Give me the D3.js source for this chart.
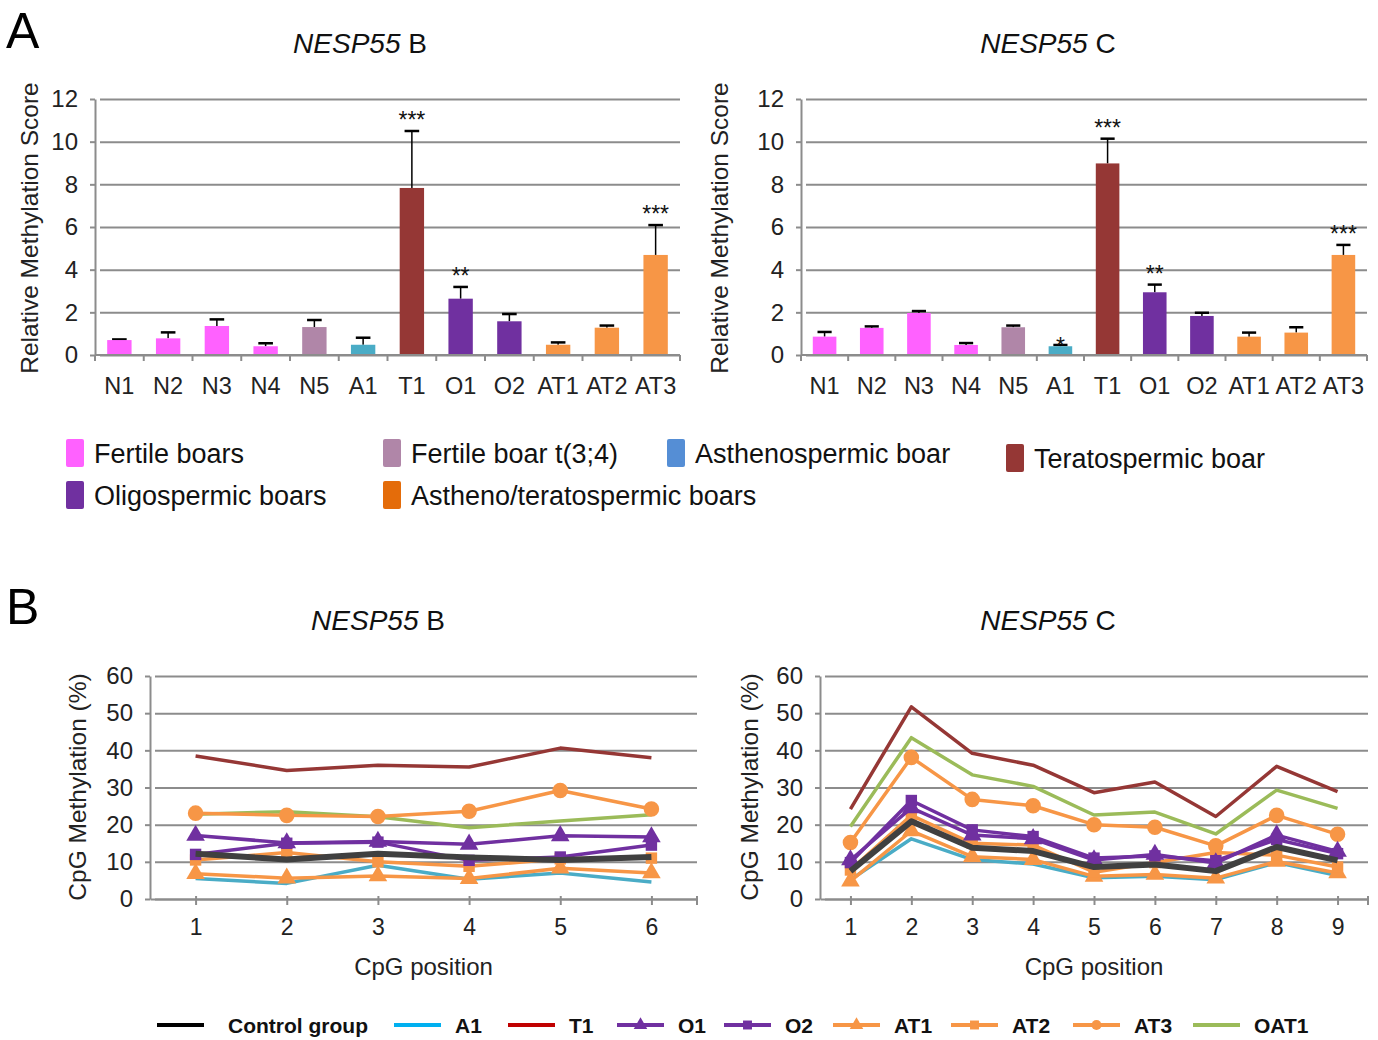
<!DOCTYPE html>
<html lang="en">
<head>
  <meta charset="UTF-8" />
  <title>NESP55 methylation</title>
  <script src="https://d3js.org/d3.v7.min.js"></script>
  <style>
    body { margin: 0; background: #fff; }
    svg { display: block; font-family: "Liberation Sans", Arial, sans-serif; }
    .grid line { stroke: #8c8c8c; stroke-width: 2; }
  </style>
</head>
<body>
<svg id="chart" width="1378" height="1040"></svg>
<script>
  // ---- panel A data ----
  const categories = ["N1", "N2", "N3", "N4", "N5", "A1", "T1", "O1", "O2", "AT1", "AT2", "AT3"];
  const barGroups = ["fert", "fert", "fert", "fert", "t34", "asth", "terato", "oligo", "oligo", "at", "at", "at"];
  const scoreB = [0.70, 0.78, 1.36, 0.41, 1.31, 0.48, 7.83, 2.64, 1.58, 0.48, 1.28, 4.69];
  const errTopB = [0.73, 1.06, 1.67, 0.55, 1.64, 0.81, 10.5, 3.19, 1.92, 0.59, 1.38, 6.09];
  const starsB = ["", "", "", "", "", "", "***", "**", "", "", "", "***"];
  const scoreC = [0.86, 1.27, 1.97, 0.47, 1.30, 0.41, 8.98, 2.94, 1.83, 0.86, 1.05, 4.69];
  const errTopC = [1.08, 1.34, 2.06, 0.56, 1.38, 0.47, 10.14, 3.30, 1.98, 1.05, 1.30, 5.16];
  const starsC = ["", "", "", "", "", "*", "***", "**", "", "", "", "***"];
  const yTicksA = [0, 2, 4, 6, 8, 10, 12];

  const legendA = [
    { key: "fert", label: "Fertile boars" },
    { key: "t34", label: "Fertile boar t(3;4)" },
    { key: "asthL", label: "Asthenospermic boar" },
    { key: "terato", label: "Teratospermic boar" },
    { key: "oligo", label: "Oligospermic boars" },
    { key: "atL", label: "Astheno/teratospermic boars" }
  ];

  // ---- panel B data ----
  const posB = [1, 2, 3, 4, 5, 6];
  const posC = [1, 2, 3, 4, 5, 6, 7, 8, 9];
  const yTicksB = [0, 10, 20, 30, 40, 50, 60];
  const seriesNames = ["Control group", "A1", "T1", "O1", "O2", "AT1", "AT2", "AT3", "OAT1"];

  const cpgB = {
    "Control group": [12.2, 10.6, 12.2, 11.2, 10.5, 11.3],
    "A1":   [5.5, 4.2, 9.1, 5.3, 7.0, 4.6],
    "T1":   [38.5, 34.6, 36.0, 35.5, 40.6, 38.0],
    "O1":   [17.1, 15.1, 15.5, 14.7, 17.0, 16.7],
    "O2":   [12.0, 15.0, 15.3, 10.4, 11.3, 14.5],
    "AT1":  [6.8, 5.6, 6.2, 5.5, 8.3, 7.0],
    "AT2":  [10.5, 12.5, 10.0, 8.8, 10.8, 11.0],
    "AT3":  [23.1, 22.5, 22.2, 23.6, 29.2, 24.2],
    "OAT1": [22.8, 23.5, 22.1, 19.2, 21.0, 22.7]
  };
  const cpgC = {
    "Control group": [7.5, 20.9, 13.8, 12.9, 8.6, 9.3, 7.5, 14.0, 10.4],
    "A1":   [5.2, 16.2, 10.6, 9.4, 5.7, 6.1, 5.2, 9.8, 6.3],
    "T1":   [24.2, 51.7, 39.2, 36.0, 28.6, 31.5, 22.2, 35.7, 28.9],
    "O1":   [10.5, 24.5, 17.2, 16.2, 10.5, 12.0, 9.7, 17.2, 12.8],
    "O2":   [9.8, 26.5, 18.6, 16.8, 11.0, 11.6, 10.3, 16.0, 12.2],
    "AT1":  [4.8, 18.3, 11.4, 10.6, 6.1, 6.6, 5.6, 10.1, 7.0],
    "AT2":  [7.8, 22.5, 15.0, 14.5, 7.2, 9.8, 12.5, 11.8, 8.6],
    "AT3":  [15.2, 38.1, 26.8, 25.1, 20.0, 19.3, 14.3, 22.5, 17.4],
    "OAT1": [19.5, 43.4, 33.4, 30.3, 22.6, 23.4, 17.5, 29.3, 24.4]
  };

  // ---- styles ----
  const barColor = {
    fert: "#ff61ff", t34: "#b086a8", asth: "#4aacc6", asthL: "#558ed5",
    terato: "#953735", oligo: "#7030a0", at: "#f79646", atL: "#e46c0a"
  };
  const lineStyle = {
    "Control group": { color: "#404040", legend: "#000000", width: 6, marker: null },
    "A1":   { color: "#4aacc6", legend: "#00b0f0", width: 3.5, marker: null },
    "T1":   { color: "#953735", legend: "#c00000", width: 3.5, marker: null },
    "O1":   { color: "#7030a0", legend: "#7030a0", width: 3.5, marker: "triangle" },
    "O2":   { color: "#7030a0", legend: "#7030a0", width: 3.5, marker: "square" },
    "AT1":  { color: "#f79646", legend: "#f79646", width: 3.5, marker: "triangle" },
    "AT2":  { color: "#f79646", legend: "#f79646", width: 3.5, marker: "square" },
    "AT3":  { color: "#f79646", legend: "#f79646", width: 3.5, marker: "circle" },
    "OAT1": { color: "#9bbb59", legend: "#9bbb59", width: 3.5, marker: null }
  };
  // draw order (back to front)
  const drawOrder = ["T1", "OAT1", "AT3", "A1", "AT1", "AT2", "O2", "O1", "Control group"];

  const svg = d3.select("#chart");

  function title(x, y, letter) {
    const t = svg.append("text").attr("x", x).attr("y", y)
      .attr("text-anchor", "middle").style("font-size", "28px").style("fill", "#111");
    t.append("tspan").style("font-style", "italic").text("NESP55");
    t.append("tspan").text(" " + letter);
  }

  function yTitle(x, y, label) {
    svg.append("text")
      .attr("transform", `translate(${x},${y}) rotate(-90)`)
      .attr("text-anchor", "middle")
      .style("font-size", "24.5px").style("fill", "#222")
      .text(label);
  }

  function barPanel(x0, x1, vals, errs, stars, letter, titleX) {
    const y = d3.scaleLinear().domain([0, 12]).range([355, 99]);
    const x = d3.scaleBand().domain(categories).range([x0, x1])
      .paddingInner(0.5).paddingOuter(0.25);
    const g = svg.append("g");

    const grid = g.append("g").attr("class", "grid")
      .attr("transform", `translate(${x0},0)`)
      .call(d3.axisLeft(y).tickValues(yTicksA).tickSize(-(x1 - x0)).tickSizeOuter(0).tickFormat(""));
    grid.select(".domain").remove();
    grid.selectAll(".tick line").attr("x1", 5);

    g.append("g").attr("transform", `translate(${x0},0)`)
      .call(d3.axisLeft(y).tickValues(yTicksA).tickSize(5).tickPadding(12).tickSizeOuter(0))
      .call(a => a.select(".domain").attr("stroke", "#8c8c8c").attr("stroke-width", 2))
      .call(a => a.selectAll(".tick line").attr("stroke", "#8c8c8c").attr("stroke-width", 2))
      .call(a => a.selectAll("text").style("font-size", "24px").style("fill", "#222")
        .style("font-family", "'Liberation Sans', Arial, sans-serif"));

    // x axis with ticks between categories
    const step = x.step();
    const xa = g.append("g");
    xa.append("line").attr("x1", x0).attr("x2", x1).attr("y1", y(0)).attr("y2", y(0))
      .attr("stroke", "#8c8c8c").attr("stroke-width", 2);
    xa.selectAll("line.tk").data(d3.range(categories.length + 1)).join("line")
      .attr("class", "tk")
      .attr("x1", i => x0 + i * step).attr("x2", i => x0 + i * step)
      .attr("y1", y(0)).attr("y2", y(0) + 6)
      .attr("stroke", "#8c8c8c").attr("stroke-width", 2);
    xa.selectAll("text").data(categories).join("text")
      .attr("x", d => x(d) + x.bandwidth() / 2).attr("y", 394)
      .attr("text-anchor", "middle").style("font-size", "23.5px").style("fill", "#222")
      .text(d => d);

    // error bars
    const cap = x.bandwidth() * 0.6;
    g.selectAll("line.err").data(categories).join("line")
      .attr("class", "err")
      .attr("x1", d => x(d) + x.bandwidth() / 2).attr("x2", d => x(d) + x.bandwidth() / 2)
      .attr("y1", (d, i) => y(vals[i])).attr("y2", (d, i) => y(errs[i]))
      .attr("stroke", "#000").attr("stroke-width", 1.5);
    g.selectAll("line.cap").data(categories).join("line")
      .attr("class", "cap")
      .attr("x1", d => x(d) + x.bandwidth() / 2 - cap / 2).attr("x2", d => x(d) + x.bandwidth() / 2 + cap / 2)
      .attr("y1", (d, i) => y(errs[i])).attr("y2", (d, i) => y(errs[i]))
      .attr("stroke", "#000").attr("stroke-width", 2.5);

    g.selectAll("rect.bar").data(categories).join("rect")
      .attr("class", "bar")
      .attr("x", d => x(d)).attr("width", x.bandwidth())
      .attr("y", (d, i) => y(vals[i])).attr("height", (d, i) => y(0) - y(vals[i]) - 1)
      .attr("fill", (d, i) => barColor[barGroups[i]]);

    g.selectAll("text.star").data(categories).join("text")
      .attr("class", "star")
      .attr("x", d => x(d) + x.bandwidth() / 2)
      .attr("y", (d, i) => y(errs[i]) + (stars[i] === "*" ? 9 : -3))
      .attr("text-anchor", "middle").style("font-size", "23px").style("fill", "#111")
      .text((d, i) => stars[i]);

    title(titleX, 53, letter);
  }

  function markerPath(type, size) {
    const sym = { triangle: d3.symbolTriangle, square: d3.symbolSquare, circle: d3.symbolCircle }[type];
    return d3.symbol().type(sym).size(size)();
  }
  const markerSize = { triangle: 150, square: 130, circle: 190 };

  function linePanel(x0, x1, positions, data, letter, titleX) {
    const y = d3.scaleLinear().domain([0, 60]).range([899, 676]);
    const x = d3.scalePoint().domain(positions).range([x0, x1]).padding(0.5);
    const g = svg.append("g");

    const grid = g.append("g").attr("class", "grid")
      .attr("transform", `translate(${x0},0)`)
      .call(d3.axisLeft(y).tickValues(yTicksB).tickSize(-(x1 - x0)).tickSizeOuter(0).tickFormat(""));
    grid.select(".domain").remove();
    grid.selectAll(".tick line").attr("x1", 5);

    g.append("g").attr("transform", `translate(${x0},0)`)
      .call(d3.axisLeft(y).tickValues(yTicksB).tickSize(5).tickPadding(12).tickSizeOuter(0))
      .call(a => a.select(".domain").attr("stroke", "#8c8c8c").attr("stroke-width", 2))
      .call(a => a.selectAll(".tick line").attr("stroke", "#8c8c8c").attr("stroke-width", 2))
      .call(a => a.selectAll("text").style("font-size", "24px").style("fill", "#222")
        .style("font-family", "'Liberation Sans', Arial, sans-serif"));

    g.append("g").attr("transform", `translate(0,${y(0)})`)
      .call(d3.axisBottom(x).tickSize(6).tickPadding(14).tickSizeOuter(0))
      .call(a => a.select(".domain").attr("stroke", "#8c8c8c").attr("stroke-width", 2))
      .call(a => a.selectAll(".tick line").attr("stroke", "#8c8c8c").attr("stroke-width", 2).attr("y1", -3))
      .call(a => a.selectAll("text").style("font-size", "23px").style("fill", "#222")
        .style("font-family", "'Liberation Sans', Arial, sans-serif"));
    g.append("line").attr("x1", x1).attr("x2", x1).attr("y1", y(0) - 3).attr("y2", y(0) + 6)
      .attr("stroke", "#8c8c8c").attr("stroke-width", 2);

    const line = d3.line().x((d, i) => x(positions[i])).y(d => y(d));
    drawOrder.forEach(name => {
      const st = lineStyle[name];
      const vals = data[name];
      g.append("path").datum(vals).attr("d", line)
        .attr("fill", "none").attr("stroke", st.color).attr("stroke-width", st.width)
        .attr("stroke-linejoin", "round");
      if (st.marker) {
        g.selectAll(null).data(vals).join("path")
          .attr("transform", (d, i) => `translate(${x(positions[i])},${y(d)})`)
          .attr("d", markerPath(st.marker, markerSize[st.marker]))
          .attr("fill", st.color);
      }
    });

    g.append("text").attr("x", (x0 + x1) / 2).attr("y", 975)
      .attr("text-anchor", "middle").style("font-size", "24px").style("fill", "#222")
      .text("CpG position");
    title(titleX, 630, letter);
  }

  // panel letters
  svg.append("text").attr("x", 6).attr("y", 48).style("font-size", "50px").text("A");
  svg.append("text").attr("x", 6).attr("y", 624).style("font-size", "50px").text("B");

  barPanel(95, 680, scoreB, errTopB, starsB, "B", 360);
  barPanel(801, 1367, scoreC, errTopC, starsC, "C", 1048);
  yTitle(38, 228, "Relative Methylation Score");
  yTitle(728, 228, "Relative Methylation Score");

  // legend A
  const legAPos = [[66, 453], [383, 453], [667, 453], [1006, 458], [66, 495], [383, 495]];
  legendA.forEach((d, i) => {
    const [lx, ly] = legAPos[i];
    svg.append("rect").attr("x", lx).attr("y", ly - 14).attr("width", 18).attr("height", 28)
      .attr("rx", 2).attr("fill", barColor[d.key]);
    svg.append("text").attr("x", lx + 28).attr("y", ly + 10)
      .style("font-size", "27px").style("fill", "#111").text(d.label);
  });

  linePanel(150, 697, posB, cpgB, "B", 378);
  linePanel(820, 1368, posC, cpgC, "C", 1048);
  yTitle(86, 787, "CpG Methylation (%)");
  yTitle(758, 787, "CpG Methylation (%)");

  // legend B
  const legBX = [157, 394, 508, 617, 724, 833, 951, 1073, 1193];
  const legB = svg.append("g").style("font-family", "'Liberation Sans Narrow', 'Arial Narrow', 'Liberation Sans', sans-serif");
  seriesNames.forEach((name, i) => {
    const st = lineStyle[name];
    const lx = legBX[i];
    legB.append("line").attr("x1", lx).attr("x2", lx + 47).attr("y1", 1025).attr("y2", 1025)
      .attr("stroke", st.legend).attr("stroke-width", 4);
    if (st.marker) {
      legB.append("path").attr("transform", `translate(${lx + 23.5},1025)`)
        .attr("d", markerPath(st.marker, 80)).attr("fill", st.legend);
    }
    legB.append("text").attr("x", lx + (name === "Control group" ? 71 : 61)).attr("y", 1033)
      .style("font-size", "21px").style("font-weight", "bold").style("fill", "#111")
      .text(name);
  });
</script>
</body>
</html>
